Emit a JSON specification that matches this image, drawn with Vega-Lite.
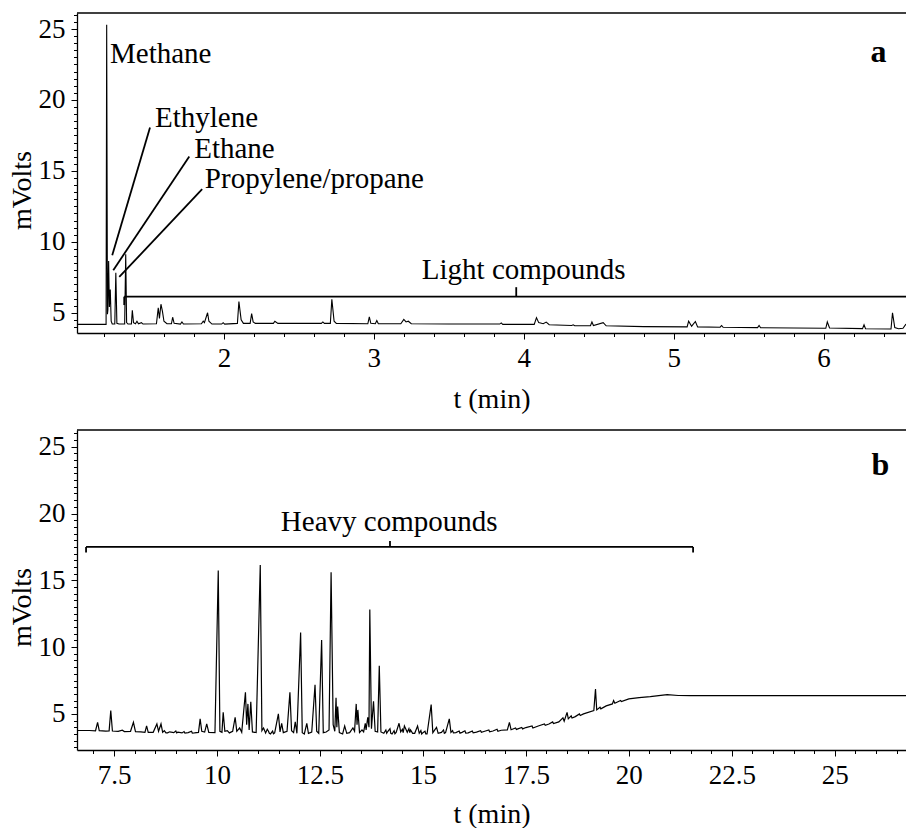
{
  "$schema": "https://vega.github.io/schema/vega-lite/v6.json",
  "padding": {"left": 8, "top": 0, "right": 0, "bottom": 0},
  "background": "white",
  "spacing": 97,
  "bounds": "flush",
  "datasets": {
    "traceA": [
      {"x":1.02,"y":4.18},{"x":1.2,"y":4.18},{"x":1.214,"y":4.18},{"x":1.218,"y":25.3},{"x":1.223,"y":4.9},{"x":1.226,"y":5.2},{"x":1.231,"y":8.65},{"x":1.236,"y":5.4},{"x":1.242,"y":6.63},{"x":1.248,"y":4.4},{"x":1.255,"y":4.2},
      {"x":1.272,"y":4.2},{"x":1.279,"y":7.82},{"x":1.286,"y":4.25},{"x":1.3,"y":4.2},{"x":1.338,"y":4.2},{"x":1.345,"y":9.12},{"x":1.351,"y":4.3},{"x":1.36,"y":4.2},
      {"x":1.383,"y":4.2},{"x":1.389,"y":5.17},{"x":1.397,"y":4.3},{"x":1.41,"y":4.22},{"x":1.42,"y":4.4},{"x":1.43,"y":4.22},{"x":1.45,"y":4.3},{"x":1.46,"y":4.2},
      {"x":1.55,"y":4.22},{"x":1.562,"y":5.35},{"x":1.57,"y":4.6},{"x":1.58,"y":5.6},{"x":1.59,"y":5.1},{"x":1.6,"y":4.4},{"x":1.62,"y":4.22},
      {"x":1.65,"y":4.22},{"x":1.658,"y":4.68},{"x":1.668,"y":4.25},{"x":1.71,"y":4.2},{"x":1.72,"y":4.35},{"x":1.73,"y":4.2},
      {"x":1.85,"y":4.22},{"x":1.862,"y":4.4},{"x":1.87,"y":4.3},{"x":1.891,"y":5.0},{"x":1.9,"y":4.4},{"x":1.92,"y":4.2},
      {"x":1.985,"y":4.2},{"x":1.995,"y":4.3},{"x":2.005,"y":4.2},{"x":2.09,"y":4.25},{"x":2.1,"y":5.78},{"x":2.115,"y":4.5},{"x":2.13,"y":4.25},
      {"x":2.175,"y":4.25},{"x":2.185,"y":4.93},{"x":2.195,"y":4.35},{"x":2.21,"y":4.25},{"x":2.33,"y":4.25},{"x":2.34,"y":4.4},{"x":2.36,"y":4.25},
      {"x":2.65,"y":4.25},{"x":2.66,"y":4.35},{"x":2.67,"y":4.25},{"x":2.71,"y":4.25},{"x":2.72,"y":5.95},{"x":2.735,"y":4.4},{"x":2.75,"y":4.25},
      {"x":2.96,"y":4.22},{"x":2.97,"y":4.7},{"x":2.98,"y":4.25},{"x":3.01,"y":4.22},{"x":3.02,"y":4.45},{"x":3.03,"y":4.22},
      {"x":3.18,"y":4.22},{"x":3.2,"y":4.53},{"x":3.215,"y":4.35},{"x":3.23,"y":4.4},{"x":3.25,"y":4.22},{"x":3.5,"y":4.2},
      {"x":3.84,"y":4.2},{"x":3.85,"y":4.28},{"x":3.86,"y":4.18},{"x":4.07,"y":4.18},{"x":4.085,"y":4.65},{"x":4.1,"y":4.3},{"x":4.13,"y":4.22},{"x":4.15,"y":4.34},{"x":4.17,"y":4.15},
      {"x":4.32,"y":4.1},{"x":4.33,"y":4.15},{"x":4.34,"y":4.08},{"x":4.445,"y":4.08},{"x":4.455,"y":4.35},{"x":4.465,"y":4.1},{"x":4.53,"y":4.3},{"x":4.55,"y":4.08},
      {"x":4.8,"y":4.02},{"x":5.09,"y":4.0},{"x":5.1,"y":4.4},{"x":5.12,"y":4.05},{"x":5.145,"y":4.38},{"x":5.16,"y":4.0},
      {"x":5.31,"y":3.98},{"x":5.32,"y":4.1},{"x":5.33,"y":3.97},{"x":5.56,"y":3.95},{"x":5.57,"y":4.1},{"x":5.58,"y":3.94},
      {"x":6.015,"y":3.9},{"x":6.025,"y":4.35},{"x":6.04,"y":3.92},{"x":6.26,"y":3.88},{"x":6.27,"y":4.15},{"x":6.28,"y":3.87},
      {"x":6.45,"y":3.85},{"x":6.46,"y":5.0},{"x":6.475,"y":3.95},{"x":6.5,"y":3.87},{"x":6.53,"y":3.9},{"x":6.55,"y":4.2}
    ],
    "traceB": [
      {"x":6.6,"y":3.76},{"x":6.9,"y":3.76},{"x":7.05,"y":3.74},{"x":7.1,"y":4.37},{"x":7.14,"y":3.75},{"x":7.3,"y":3.72},{"x":7.38,"y":3.73},{"x":7.42,"y":5.25},{"x":7.46,"y":3.72},
      {"x":7.6,"y":3.7},{"x":7.7,"y":3.78},{"x":7.75,"y":3.68},{"x":7.9,"y":3.7},{"x":7.97,"y":4.37},{"x":8.02,"y":3.68},{"x":8.15,"y":3.66},{"x":8.25,"y":3.62},{"x":8.29,"y":4.1},{"x":8.33,"y":3.62},
      {"x":8.45,"y":3.62},{"x":8.54,"y":4.25},{"x":8.58,"y":3.7},{"x":8.64,"y":4.25},{"x":8.68,"y":3.62},{"x":8.8,"y":3.58},{"x":8.85,"y":3.66},{"x":8.95,"y":3.6},{"x":9.05,"y":3.63},{"x":9.15,"y":3.58},
      {"x":9.3,"y":3.6},{"x":9.45,"y":3.58},{"x":9.55,"y":3.62},{"x":9.59,"y":4.63},{"x":9.63,"y":3.7},{"x":9.7,"y":3.64},{"x":9.75,"y":4.25},{"x":9.8,"y":3.62},{"x":9.95,"y":3.6},
      {"x":10.03,"y":15.73},{"x":10.07,"y":3.7},{"x":10.12,"y":3.62},{"x":10.15,"y":5.12},{"x":10.19,"y":3.7},{"x":10.25,"y":3.75},{"x":10.3,"y":3.58},{"x":10.38,"y":3.7},{"x":10.44,"y":4.75},{"x":10.48,"y":3.7},
      {"x":10.55,"y":3.95},{"x":10.6,"y":3.62},{"x":10.69,"y":6.62},{"x":10.72,"y":4.2},{"x":10.75,"y":5.75},{"x":10.78,"y":3.8},{"x":10.82,"y":5.9},{"x":10.86,"y":3.65},{"x":10.95,"y":3.6},
      {"x":11.05,"y":16.14},{"x":11.09,"y":3.75},{"x":11.13,"y":3.95},{"x":11.18,"y":3.58},{"x":11.25,"y":3.7},{"x":11.3,"y":3.5},{"x":11.4,"y":3.58},{"x":11.49,"y":5.0},{"x":11.53,"y":3.65},
      {"x":11.57,"y":4.3},{"x":11.61,"y":3.6},{"x":11.7,"y":3.7},{"x":11.77,"y":6.62},{"x":11.81,"y":3.75},{"x":11.86,"y":3.6},{"x":11.9,"y":4.4},{"x":11.94,"y":3.55},
      {"x":12.03,"y":11.1},{"x":12.07,"y":3.6},{"x":12.12,"y":3.5},{"x":12.18,"y":4.3},{"x":12.22,"y":3.55},{"x":12.3,"y":3.65},{"x":12.38,"y":7.18},{"x":12.42,"y":3.7},{"x":12.47,"y":3.55},
      {"x":12.54,"y":10.53},{"x":12.58,"y":3.6},{"x":12.65,"y":3.65},{"x":12.72,"y":3.8},{"x":12.77,"y":15.6},{"x":12.82,"y":4.2},{"x":12.86,"y":3.7},{"x":12.89,"y":6.2},{"x":12.91,"y":4.0},{"x":12.93,"y":5.55},{"x":12.97,"y":3.6},
      {"x":13.05,"y":3.5},{"x":13.1,"y":4.1},{"x":13.15,"y":3.55},{"x":13.22,"y":3.6},{"x":13.3,"y":3.95},{"x":13.34,"y":3.7},{"x":13.38,"y":5.75},{"x":13.4,"y":4.2},{"x":13.42,"y":5.3},{"x":13.46,"y":3.6},
      {"x":13.52,"y":3.8},{"x":13.56,"y":3.65},{"x":13.6,"y":4.3},{"x":13.62,"y":3.8},{"x":13.66,"y":4.75},{"x":13.69,"y":4.0},{"x":13.71,"y":12.82},{"x":13.75,"y":3.9},{"x":13.8,"y":5.95},{"x":13.84,"y":3.7},
      {"x":13.9,"y":3.65},{"x":13.94,"y":8.6},{"x":13.98,"y":3.65},{"x":14.05,"y":3.55},{"x":14.15,"y":3.7},{"x":14.25,"y":3.5},{"x":14.35,"y":3.62},{"x":14.42,"y":4.3},{"x":14.46,"y":3.65},
      {"x":14.55,"y":4.1},{"x":14.62,"y":3.62},{"x":14.7,"y":3.8},{"x":14.8,"y":3.55},{"x":14.87,"y":4.1},{"x":14.91,"y":3.55},{"x":15.0,"y":3.6},{"x":15.1,"y":3.5},{"x":15.2,"y":5.7},{"x":15.24,"y":3.6},
      {"x":15.33,"y":4.0},{"x":15.37,"y":3.55},{"x":15.45,"y":3.62},{"x":15.55,"y":3.6},{"x":15.64,"y":4.63},{"x":15.68,"y":3.62},{"x":15.8,"y":3.6},{"x":15.95,"y":3.62},{"x":16.1,"y":3.58},
      {"x":16.3,"y":3.64},{"x":16.5,"y":3.7},{"x":16.7,"y":3.72},{"x":16.9,"y":3.78},{"x":17.05,"y":3.8},{"x":17.1,"y":4.37},{"x":17.14,"y":3.82},{"x":17.5,"y":3.98},{"x":17.8,"y":4.1},
      {"x":18.06,"y":4.25},{"x":18.3,"y":4.4},{"x":18.4,"y":4.7},{"x":18.43,"y":4.45},{"x":18.5,"y":5.12},{"x":18.53,"y":4.63},{"x":18.7,"y":4.8},{"x":18.9,"y":5.0},
      {"x":19.15,"y":5.25},{"x":19.19,"y":6.87},{"x":19.22,"y":5.3},{"x":19.45,"y":5.6},{"x":19.6,"y":5.75},{"x":19.63,"y":6.0},{"x":19.66,"y":5.8},{"x":19.71,"y":5.87},
      {"x":20.0,"y":6.12},{"x":20.25,"y":6.22},{"x":20.52,"y":6.29},{"x":20.93,"y":6.44},{"x":21.2,"y":6.38},{"x":21.5,"y":6.37},{"x":22.0,"y":6.37},{"x":23.0,"y":6.37},{"x":24.0,"y":6.37},{"x":25.0,"y":6.37},{"x":26.0,"y":6.37},{"x":26.73,"y":6.37},
      {"x":8.72,"y":3.75},{"x":8.76,"y":3.58},{"x":9.0,"y":3.72},{"x":9.02,"y":3.58},{"x":9.2,"y":3.68},{"x":9.22,"y":3.56},{"x":9.38,"y":3.7},{"x":9.4,"y":3.57},
      {"x":11.22,"y":3.85},{"x":11.27,"y":3.55},{"x":11.35,"y":3.72},{"x":11.37,"y":3.52},
      {"x":14.1,"y":3.8},{"x":14.12,"y":3.55},{"x":14.2,"y":3.9},{"x":14.22,"y":3.55},{"x":14.3,"y":3.75},{"x":14.32,"y":3.52},{"x":14.5,"y":3.85},{"x":14.52,"y":3.6},{"x":14.66,"y":3.9},{"x":14.68,"y":3.6},{"x":14.75,"y":3.55},{"x":14.95,"y":3.75},{"x":14.97,"y":3.5},{"x":15.05,"y":3.7},{"x":15.07,"y":3.5},
      {"x":15.5,"y":3.8},{"x":15.52,"y":3.55},{"x":15.72,"y":3.75},{"x":15.74,"y":3.58},{"x":15.88,"y":3.72},{"x":15.9,"y":3.56},{"x":16.02,"y":3.74},{"x":16.04,"y":3.56},{"x":16.2,"y":3.72},{"x":16.22,"y":3.58},{"x":16.4,"y":3.75},{"x":16.42,"y":3.62},{"x":16.6,"y":3.8},{"x":16.62,"y":3.66},{"x":16.8,"y":3.85},{"x":16.82,"y":3.7},
      {"x":17.25,"y":3.95},{"x":17.27,"y":3.84},{"x":17.4,"y":3.98},{"x":17.42,"y":3.88},{"x":17.65,"y":4.1},{"x":17.67,"y":3.95},{"x":17.95,"y":4.25},{"x":17.97,"y":4.15},{"x":18.15,"y":4.4},{"x":18.17,"y":4.28},{"x":18.6,"y":4.85},{"x":18.62,"y":4.7},{"x":18.8,"y":5.0},{"x":18.82,"y":4.88},{"x":19.3,"y":5.5},{"x":19.32,"y":5.38},{"x":19.8,"y":6.0},{"x":19.82,"y":5.92}
    ],
    "borderA": [{"x":1.02,"y":26.13,"x2":6.55,"y2":26.13}],
    "borderB": [{"x":6.6,"y":26.25,"x2":26.73,"y2":26.25}],
    "segA": [
      {"x":1.507,"y":18.05,"x2":1.255,"y2":9.05},
      {"x":1.769,"y":16.01,"x2":1.262,"y2":8.0},
      {"x":1.855,"y":13.71,"x2":1.302,"y2":7.52},
      {"x":1.335,"y":6.13,"x2":6.55,"y2":6.13},
      {"x":1.335,"y":6.13,"x2":1.335,"y2":5.54},
      {"x":3.95,"y":6.13,"x2":3.95,"y2":6.8}
    ],
    "segB": [
      {"x":6.82,"y":17.5,"x2":21.56,"y2":17.5},
      {"x":6.82,"y":17.5,"x2":6.82,"y2":17.08},
      {"x":21.56,"y":17.5,"x2":21.56,"y2":17.08},
      {"x":14.2,"y":17.5,"x2":14.2,"y2":17.95}
    ],
    "labA": [
      {"x":1.24,"y":22.57,"label":"Methane"},
      {"x":1.54,"y":18.11,"label":"Ethylene"},
      {"x":1.802,"y":15.94,"label":"Ethane"},
      {"x":1.873,"y":13.82,"label":"Propylene/propane"}
    ]
  },
  "vconcat": [
    {
      "width": 829,
      "height": 320,
      "encoding": {
        "x": {"field": "x", "type": "quantitative", "title": "t (min)",
          "scale": {"domain": [1.02, 6.55], "nice": false, "zero": false},
          "axis": {
            "values": [1.2,1.4,1.6,1.8,2,2.2,2.4,2.6,2.8,3,3.2,3.4,3.6,3.8,4,4.2,4.4,4.6,4.8,5,5.2,5.4,5.6,5.8,6,6.2,6.4],
            "labelExpr": "abs(datum.value - round(datum.value)) < 0.001 ? format(datum.value, '~g') : ''",
            "tickSize": {"condition": {"test": "abs(datum.value - round(datum.value)) < 0.001", "value": 6}, "value": 3.5},
            "labelPadding": 6, "titlePadding": 14, "labelOverlap": false, "labelFlush": false
          }
        },
        "y": {"field": "y", "type": "quantitative", "title": "mVolts",
          "scale": {"domain": [3.57, 26.13], "nice": false, "zero": false},
          "axis": {
            "values": [4,4.5,5,5.5,6,6.5,7,7.5,8,8.5,9,9.5,10,10.5,11,11.5,12,12.5,13,13.5,14,14.5,15,15.5,16,16.5,17,17.5,18,18.5,19,19.5,20,20.5,21,21.5,22,22.5,23,23.5,24,24.5,25,25.5,26],
            "labelExpr": "abs(datum.value/5 - round(datum.value/5)) < 0.001 ? format(datum.value, '~g') : ''",
            "tickSize": {"condition": {"test": "abs(datum.value/5 - round(datum.value/5)) < 0.001", "value": 6}, "value": 3.5},
            "labelPadding": 6, "titlePadding": 2, "titleY": 177, "labelOverlap": false, "labelFlush": false
          }
        }
      },
      "layer": [
        {
          "data": {"name": "traceA"},
          "mark": {"type": "line", "color": "black", "strokeWidth": 1.1, "clip": true}
        },
        {
          "data": {"name": "borderA"},
          "mark": {"type": "rule", "color": "black", "strokeWidth": 1.3},
          "encoding": {"x2": {"field": "x2"}, "y2": {"field": "y2"}}
        },
        {
          "data": {"name": "segA"},
          "mark": {"type": "rule", "color": "black", "strokeWidth": 1.8},
          "encoding": {"x2": {"field": "x2"}, "y2": {"field": "y2"}}
        },
        {
          "data": {"name": "labA"},
          "mark": {"type": "text", "align": "left", "baseline": "alphabetic", "font": "Liberation Serif", "fontSize": 29, "color": "black"},
          "encoding": {"text": {"field": "label"}}
        },
        {
          "data": {"values": [{"x": 4.0, "y": 7.38, "label": "Light compounds"}]},
          "mark": {"type": "text", "align": "center", "baseline": "alphabetic", "font": "Liberation Serif", "fontSize": 29, "color": "black"},
          "encoding": {"text": {"field": "label"}}
        },
        {
          "data": {"values": [{"x": 6.367, "y": 23.4, "label": "a"}]},
          "mark": {"type": "text", "align": "center", "baseline": "middle", "font": "Liberation Serif", "fontSize": 32, "fontWeight": "bold", "color": "black"},
          "encoding": {"text": {"field": "label"}}
        }
      ]
    },
    {
      "width": 829,
      "height": 320,
      "encoding": {
        "x": {"field": "x", "type": "quantitative", "title": "t (min)",
          "scale": {"domain": [6.6, 26.73], "nice": false, "zero": false},
          "axis": {
            "values": [7,7.5,8,8.5,9,9.5,10,10.5,11,11.5,12,12.5,13,13.5,14,14.5,15,15.5,16,16.5,17,17.5,18,18.5,19,19.5,20,20.5,21,21.5,22,22.5,23,23.5,24,24.5,25,25.5,26,26.5],
            "labelExpr": "abs(datum.value/2.5 - round(datum.value/2.5)) < 0.001 ? format(datum.value, '~g') : ''",
            "tickSize": {"condition": {"test": "abs(datum.value/2.5 - round(datum.value/2.5)) < 0.001", "value": 6}, "value": 3.5},
            "labelPadding": 6, "titlePadding": 12, "labelOverlap": false, "labelFlush": false
          }
        },
        "y": {"field": "y", "type": "quantitative", "title": "mVolts",
          "scale": {"domain": [2.3, 26.25], "nice": false, "zero": false},
          "axis": {
            "values": [2.5,3,3.5,4,4.5,5,5.5,6,6.5,7,7.5,8,8.5,9,9.5,10,10.5,11,11.5,12,12.5,13,13.5,14,14.5,15,15.5,16,16.5,17,17.5,18,18.5,19,19.5,20,20.5,21,21.5,22,22.5,23,23.5,24,24.5,25,25.5,26],
            "labelExpr": "abs(datum.value/5 - round(datum.value/5)) < 0.001 ? format(datum.value, '~g') : ''",
            "tickSize": {"condition": {"test": "abs(datum.value/5 - round(datum.value/5)) < 0.001", "value": 6}, "value": 3.5},
            "labelPadding": 6, "titlePadding": 2, "titleY": 177, "labelOverlap": false, "labelFlush": false
          }
        }
      },
      "layer": [
        {
          "data": {"name": "traceB"},
          "mark": {"type": "line", "color": "black", "strokeWidth": 1.2, "clip": true}
        },
        {
          "data": {"name": "borderB"},
          "mark": {"type": "rule", "color": "black", "strokeWidth": 1.3},
          "encoding": {"x2": {"field": "x2"}, "y2": {"field": "y2"}}
        },
        {
          "data": {"name": "segB"},
          "mark": {"type": "rule", "color": "black", "strokeWidth": 1.8},
          "encoding": {"x2": {"field": "x2"}, "y2": {"field": "y2"}}
        },
        {
          "data": {"values": [{"x": 14.18, "y": 18.7, "label": "Heavy compounds"}]},
          "mark": {"type": "text", "align": "center", "baseline": "alphabetic", "font": "Liberation Serif", "fontSize": 29, "color": "black"},
          "encoding": {"text": {"field": "label"}}
        },
        {
          "data": {"values": [{"x": 26.11, "y": 23.63, "label": "b"}]},
          "mark": {"type": "text", "align": "center", "baseline": "middle", "font": "Liberation Serif", "fontSize": 32, "fontWeight": "bold", "color": "black"},
          "encoding": {"text": {"field": "label"}}
        }
      ]
    }
  ],
  "config": {
    "view": {"stroke": null},
    "axis": {
      "grid": false,
      "labelFont": "Liberation Serif", "labelFontSize": 27, "labelColor": "black",
      "titleFont": "Liberation Serif", "titleFontSize": 28, "titleFontWeight": "normal", "titleColor": "black",
      "domainColor": "black", "domainWidth": 1.3, "tickColor": "black", "tickWidth": 1
    }
  }
}
